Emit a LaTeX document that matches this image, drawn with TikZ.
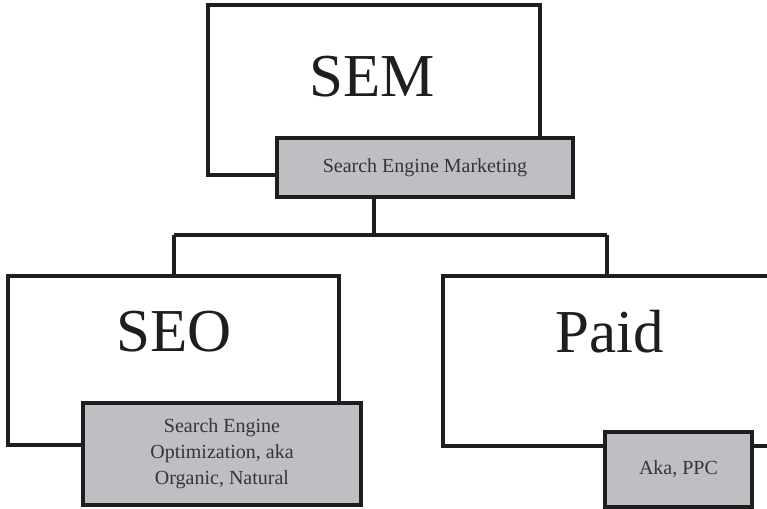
\documentclass[tikz,border=0pt]{standalone}
\usepackage{fontspec}
\setmainfont{Liberation Serif}
\definecolor{boxgray}{RGB}{190,191,194}
\definecolor{ink}{RGB}{30,30,30}
\begin{document}
\begin{tikzpicture}[x=1pt,y=-1pt,
  outerbox/.style={draw=ink,line width=3.5pt,fill=white,inner sep=0pt},
  labelbox/.style={draw=ink,line width=3.5pt,fill=boxgray,inner sep=0pt,align=center,font=\fontsize{20}{26}\selectfont,text=ink!90},
  big/.style={font=\fontsize{61}{66}\selectfont,text=ink},
  wire/.style={draw=ink,line width=3.5pt}]
\useasboundingbox (0,0) rectangle (767,508);
\clip (0,0) rectangle (767,508);
% outer boxes
\node[outerbox,minimum width=332pt,minimum height=170pt] (sem) at (374,90) {};
\node[outerbox,minimum width=331pt,minimum height=169pt] (seo) at (173.5,360.5) {};
\node[outerbox,minimum width=360pt,minimum height=170pt] (paid) at (623,361) {};
% titles
\node[big] (semt) at (372,77) {SEM};
\node[big] (seot) at (174,332) {SEO};
\node[big] (paidt) at (610,332) {Paid};
% gray labels
\node[labelbox,minimum width=296pt,minimum height=59pt] (semg) at (425,167.5) {Search Engine Marketing};
\node[labelbox,minimum width=278pt,minimum height=102pt] (seog) at (222,454) {Search Engine\\Optimization, aka\\Organic, Natural};
\node[labelbox,minimum width=147pt,minimum height=75pt] (paidg) at (678.5,469.5) {Aka, PPC};
% connectors
\coordinate (j0) at (374,197);
\coordinate (j1) at (374,235);
\coordinate (jl) at (174,235);
\coordinate (jr) at (607,235);
\draw[wire] (semg.south -| j0) -- (j1);
\draw[wire] (jl) -- (jr);
\draw[wire] (jl) -- (seo.north -| jl);
\draw[wire] (jr) -- (paid.north -| jr);
\end{tikzpicture}
\end{document}
